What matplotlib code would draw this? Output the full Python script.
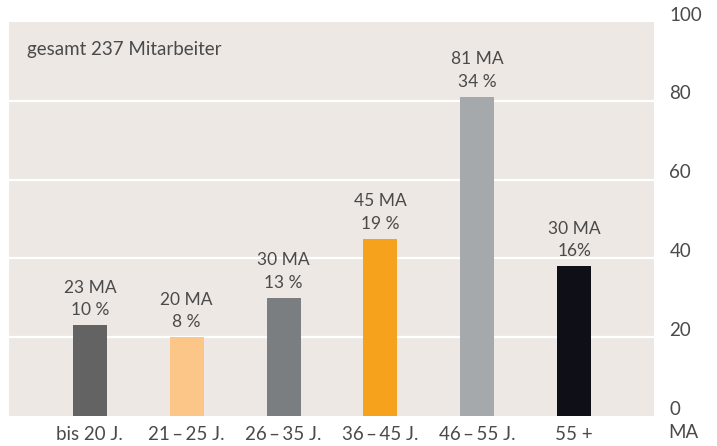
import matplotlib.pyplot as plt
from matplotlib.transforms import ScaledTranslation

# Data
categories = ["bis 20 J.", "21\u2009\u2013\u200925 J.", "26\u2009\u2013\u200935 J.",
              "36\u2009\u2013\u200945 J.", "46\u2009\u2013\u200955 J.", "55 +"]
heights = [23, 20, 30, 45, 81, 38]
count_labels = ["23 MA", "20 MA", "30 MA", "45 MA", "81 MA", "30 MA"]
pct_labels = ["10 %", "8 %", "13 %", "19 %", "34 %", "16%"]
colors = ["#636363", "#fbc687", "#7b7e80", "#f7a21d", "#a5a9ab", "#0f0f17"]
yticks = [0, 20, 40, 60, 80, 100]

plt.rcParams['font.family'] = ['Lato', 'DejaVu Sans']
text_col = "#4a4a4a"

fig = plt.figure(figsize=(7.17, 4.46), dpi=100)
W, H = 717, 446
ax = fig.add_axes([9 / W, (H - 416) / H, 645 / W, (416 - 22) / H])
ax.set_facecolor("#ede8e4")

x = list(range(len(categories)))
ax.bar(x, heights, width=0.35, color=colors, zorder=3)

# white gridlines (not at 0 or 100)
for g in yticks[1:-1]:
    ax.axhline(g, color="white", lw=1.6, zorder=1)

ax.set_xlim(-0.835, 5.825)
ax.set_ylim(0, 100)

for s in ax.spines.values():
    s.set_visible(False)

ax.set_xticks(x)
ax.set_xticklabels(categories, fontsize=13.5, color=text_col)
ax.tick_params(axis='x', length=0, pad=7)

ax.yaxis.tick_right()
ax.set_yticks(yticks)
ax.set_yticklabels([str(t) for t in yticks], fontsize=13.5, color=text_col)
ax.tick_params(axis='y', length=0, pad=11)
for lab in ax.get_yticklabels():
    lab.set_transform(lab.get_transform() + ScaledTranslation(0, 6 / 72, fig.dpi_scale_trans))

# bar annotations
for xi, h, c, p in zip(x, heights, count_labels, pct_labels):
    ax.annotate(c + "\n" + p, xy=(xi, h), xytext=(0, 5), textcoords='offset points',
                ha='center', va='bottom', fontsize=12.5, color=text_col, linespacing=1.5)

ax.text(0.028, 0.931, "gesamt 237 Mitarbeiter", transform=ax.transAxes,
        ha='left', va='center', fontsize=13.5, color=text_col)

ax.annotate("MA", xy=(1, 0), xycoords='axes fraction', xytext=(29, -17),
            textcoords='offset pixels', ha='center', va='center',
            fontsize=13.5, color=text_col)

fig.savefig("out.png", dpi=100)
